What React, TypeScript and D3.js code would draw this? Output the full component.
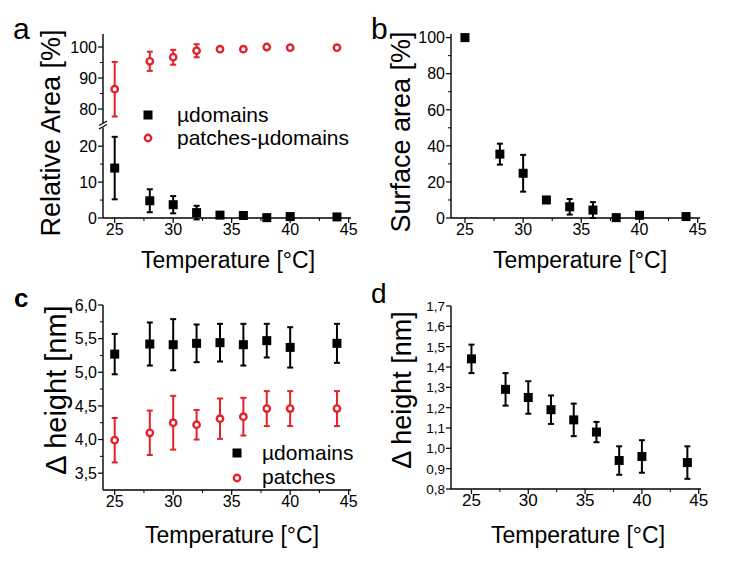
import React from 'react';
import * as d3 from 'd3';

const temps = [25, 28, 30, 32, 34, 36, 38, 40, 44];

// Panel a
const aDomainVal = [13.9, 4.8, 3.7, 1.5, 0.8, 0.7, 0.1, 0.4, 0.3];
const aDomainErr = [8.7, 3.2, 2.4, 1.9, 0.6, 0.5, 0.2, 0.3, 0.3];
const aPatchVal = [86.4, 95.4, 96.7, 98.8, 99.3, 99.3, 100.0, 99.8, 99.8];
const aPatchErr = [8.8, 3.1, 2.4, 2.1, 0.5, 0.4, 0.3, 0.3, 0.3];
const aUpperTicks = [80, 90, 100];
const aLowerTicks = [0, 10, 20];

// Panel b
const bVal = [100, 35.4, 24.8, 10.0, 6.2, 4.4, 0.2, 1.5, 0.8];
const bErr = [0.5, 5.8, 10.2, 1.0, 4.3, 4.4, 0.3, 0.5, 0.5];
const bTicks = [0, 20, 40, 60, 80, 100];

// Panel c
const cDomainVal = [5.27, 5.42, 5.41, 5.43, 5.44, 5.41, 5.47, 5.37, 5.43];
const cDomainErr = [0.30, 0.32, 0.38, 0.28, 0.28, 0.31, 0.25, 0.30, 0.29];
const cPatchVal = [3.99, 4.10, 4.25, 4.22, 4.31, 4.34, 4.46, 4.46, 4.46];
const cPatchErr = [0.33, 0.33, 0.40, 0.22, 0.30, 0.28, 0.26, 0.26, 0.26];
const cTicks = [3.5, 4.0, 4.5, 5.0, 5.5, 6.0];

// Panel d
const dVal = [1.44, 1.29, 1.25, 1.19, 1.14, 1.08, 0.94, 0.96, 0.93];
const dErr = [0.07, 0.08, 0.08, 0.07, 0.08, 0.05, 0.07, 0.08, 0.08];
const dTicks = [0.8, 0.9, 1.0, 1.1, 1.2, 1.3, 1.4, 1.5, 1.6, 1.7];

const xTicks = [25, 30, 35, 40, 45];
const xMinor = [27.5, 32.5, 37.5, 42.5];

const FONT = "'Liberation Sans', Arial, Helvetica, sans-serif";
const RED = '#e3232b';
const comma = (v: number, digits: number) => v.toFixed(digits).replace('.', ',');

type Scale = d3.ScaleLinear<number, number>;

function XAxis({ x, y0, fontSize }: { x: Scale; y0: number; fontSize: number }) {
  const [r0, r1] = x.range();
  return (
    <g>
      <line x1={r0} x2={r1} y1={y0} y2={y0} stroke="#000" strokeWidth={1.4} />
      {xTicks.map((t) => (
        <g key={t}>
          <line x1={x(t)} x2={x(t)} y1={y0} y2={y0 + 5} stroke="#000" strokeWidth={1.2} />
          <text x={x(t)} y={y0 + 17} fontSize={fontSize} textAnchor="middle" fontFamily={FONT}>{t}</text>
        </g>
      ))}
      {xMinor.map((t) => (
        <line key={t} x1={x(t)} x2={x(t)} y1={y0} y2={y0 + 3} stroke="#000" strokeWidth={1} />
      ))}
    </g>
  );
}

function YAxis({ y, x0, ticks, minor, fmt, fontSize, line = true }: { y: Scale; x0: number; ticks: number[]; minor: number[]; fmt: (v: number) => string; fontSize: number; line?: boolean }) {
  const [r0, r1] = y.range();
  return (
    <g>
      {line && <line x1={x0} x2={x0} y1={r0} y2={r1} stroke="#000" strokeWidth={1.4} />}
      {ticks.map((t) => (
        <g key={t}>
          <line x1={x0 - 5} x2={x0} y1={y(t)} y2={y(t)} stroke="#000" strokeWidth={1.2} />
          <text x={x0 - 6} y={y(t)} dy="0.36em" fontSize={fontSize} textAnchor="end" fontFamily={FONT}>{fmt(t)}</text>
        </g>
      ))}
      {minor.map((t) => (
        <line key={t} x1={x0 - 3} x2={x0} y1={y(t)} y2={y(t)} stroke="#000" strokeWidth={1} />
      ))}
    </g>
  );
}

function Series({ x, y, vals, errs, color, kind }: { x: Scale; y: Scale; vals: number[]; errs: number[]; color: string; kind: 'square' | 'circle' }) {
  return (
    <g>
      {vals.map((v, i) => {
        const cx = x(temps[i]);
        const yl = y(v - errs[i]);
        const yh = y(v + errs[i]);
        return (
          <g key={i}>
            <line x1={cx} x2={cx} y1={yl} y2={yh} stroke={color} strokeWidth={2} />
            <line x1={cx - 3} x2={cx + 3} y1={yl} y2={yl} stroke={color} strokeWidth={2} />
            <line x1={cx - 3} x2={cx + 3} y1={yh} y2={yh} stroke={color} strokeWidth={2} />
          </g>
        );
      })}
      {vals.map((v, i) => {
        const cx = x(temps[i]);
        const cy = y(v);
        return kind === 'square' ? (
          <rect key={'m' + i} x={cx - 4.5} y={cy - 4.5} width={9} height={9} fill="#000" />
        ) : (
          <circle key={'m' + i} cx={cx} cy={cy} r={3.2} fill="#fff" stroke={color} strokeWidth={2.4} />
        );
      })}
    </g>
  );
}

function YTitle({ x, y, size, text }: { x: number; y: number; size: number; text: string }) {
  return (
    <text transform={`translate(${x},${y}) rotate(-90)`} textAnchor="middle" fontSize={size} fontFamily={FONT}>{text}</text>
  );
}

function XTitle({ x, y, text }: { x: number; y: number; text: string }) {
  return (
    <text x={x} y={y} textAnchor="middle" fontSize={23} fontFamily={FONT}>{text}</text>
  );
}

export default function App() {
  // Panel a scales
  const xa = d3.scaleLinear().domain([24, 45.2]).range([103, 351]);
  const yaU = d3.scaleLinear().domain([75.5, 104.2]).range([123, 34]);
  const yaL = d3.scaleLinear().domain([0, 25.2]).range([218, 127.5]);
  // Panel b
  const xb = d3.scaleLinear().domain([23.8, 45.2]).range([451, 700]);
  const yb = d3.scaleLinear().domain([0, 102]).range([218, 34]);
  // Panel c
  const xc = d3.scaleLinear().domain([24, 45.2]).range([103, 351]);
  const yc = d3.scaleLinear().domain([3.25, 6.0]).range([490, 305]);
  // Panel d
  const xd = d3.scaleLinear().domain([23.2, 45.2]).range([451, 701]);
  const yd = d3.scaleLinear().domain([0.8, 1.7]).range([489, 306]);

  return (
    <div style={{ position: 'absolute', left: 0, top: 0 }}>
      <svg width={756} height={568} style={{ display: 'block', background: '#fff' }}>
        <rect width={756} height={568} fill="#fff" />
        {/* Panel a */}
        <text x={13} y={39} fontSize={30} fontFamily={FONT}>a</text>
        <YAxis y={yaU} x0={103} ticks={aUpperTicks} minor={[85, 95]} fmt={(v) => String(v)} fontSize={16} />
        <YAxis y={yaL} x0={103} ticks={aLowerTicks} minor={[5, 15]} fmt={(v) => String(v)} fontSize={16} />
        <line x1={99} x2={107} y1={125.5} y2={121} stroke="#000" strokeWidth={1.2} />
        <line x1={99} x2={107} y1={129} y2={124.5} stroke="#000" strokeWidth={1.2} />
        <XAxis x={xa} y0={218} fontSize={16} />
        <Series x={xa} y={yaU} vals={aPatchVal} errs={aPatchErr} color={RED} kind="circle" />
        <Series x={xa} y={yaL} vals={aDomainVal} errs={aDomainErr} color="#000" kind="square" />
        <rect x={143.5} y={110.5} width={9} height={9} fill="#000" />
        <text x={177} y={122} fontSize={21} fontFamily={FONT}>µdomains</text>
        <circle cx={148} cy={138} r={3.2} fill="#fff" stroke={RED} strokeWidth={2.4} />
        <text x={177} y={145} fontSize={21} fontFamily={FONT}>patches-µdomains</text>
        <YTitle x={60} y={133} size={27} text="Relative Area [%]" />
        <XTitle x={228} y={268} text="Temperature [°C]" />

        {/* Panel b */}
        <text x={371} y={39} fontSize={30} fontFamily={FONT}>b</text>
        <YAxis y={yb} x0={451} ticks={bTicks} minor={[10, 30, 50, 70, 90]} fmt={(v) => String(v)} fontSize={16} />
        <XAxis x={xb} y0={218} fontSize={16} />
        <Series x={xb} y={yb} vals={bVal} errs={bErr} color="#000" kind="square" />
        <YTitle x={410} y={132} size={27} text="Surface area [%]" />
        <XTitle x={580} y={268} text="Temperature [°C]" />

        {/* Panel c */}
        <text x={14} y={307} fontSize={26} fontWeight="bold" fontFamily={FONT}>c</text>
        <YAxis y={yc} x0={103} ticks={cTicks} minor={[3.75, 4.25, 4.75, 5.25, 5.75]} fmt={(v) => comma(v, 1)} fontSize={16} />
        <XAxis x={xc} y0={490} fontSize={16} />
        <Series x={xc} y={yc} vals={cDomainVal} errs={cDomainErr} color="#000" kind="square" />
        <Series x={xc} y={yc} vals={cPatchVal} errs={cPatchErr} color={RED} kind="circle" />
        <rect x={232.5} y={448.5} width={9} height={9} fill="#000" />
        <text x={262} y={460} fontSize={21} fontFamily={FONT}>µdomains</text>
        <circle cx={237} cy={478} r={3.2} fill="#fff" stroke={RED} strokeWidth={2.4} />
        <text x={262} y={484} fontSize={21} fontFamily={FONT}>patches</text>
        <YTitle x={66} y={390} size={29} text="Δ height [nm]" />
        <XTitle x={232} y={543} text="Temperature [°C]" />

        {/* Panel d */}
        <text x={371} y={303} fontSize={28} fontFamily={FONT}>d</text>
        <YAxis y={yd} x0={451} ticks={dTicks} minor={[]} fmt={(v) => comma(v, 1)} fontSize={13.5} />
        <XAxis x={xd} y0={489} fontSize={17} />
        <Series x={xd} y={yd} vals={dVal} errs={dErr} color="#000" kind="square" />
        <YTitle x={411} y={390} size={27} text="Δ height [nm]" />
        <XTitle x={578} y={543} text="Temperature [°C]" />
      </svg>
    </div>
  );
}
